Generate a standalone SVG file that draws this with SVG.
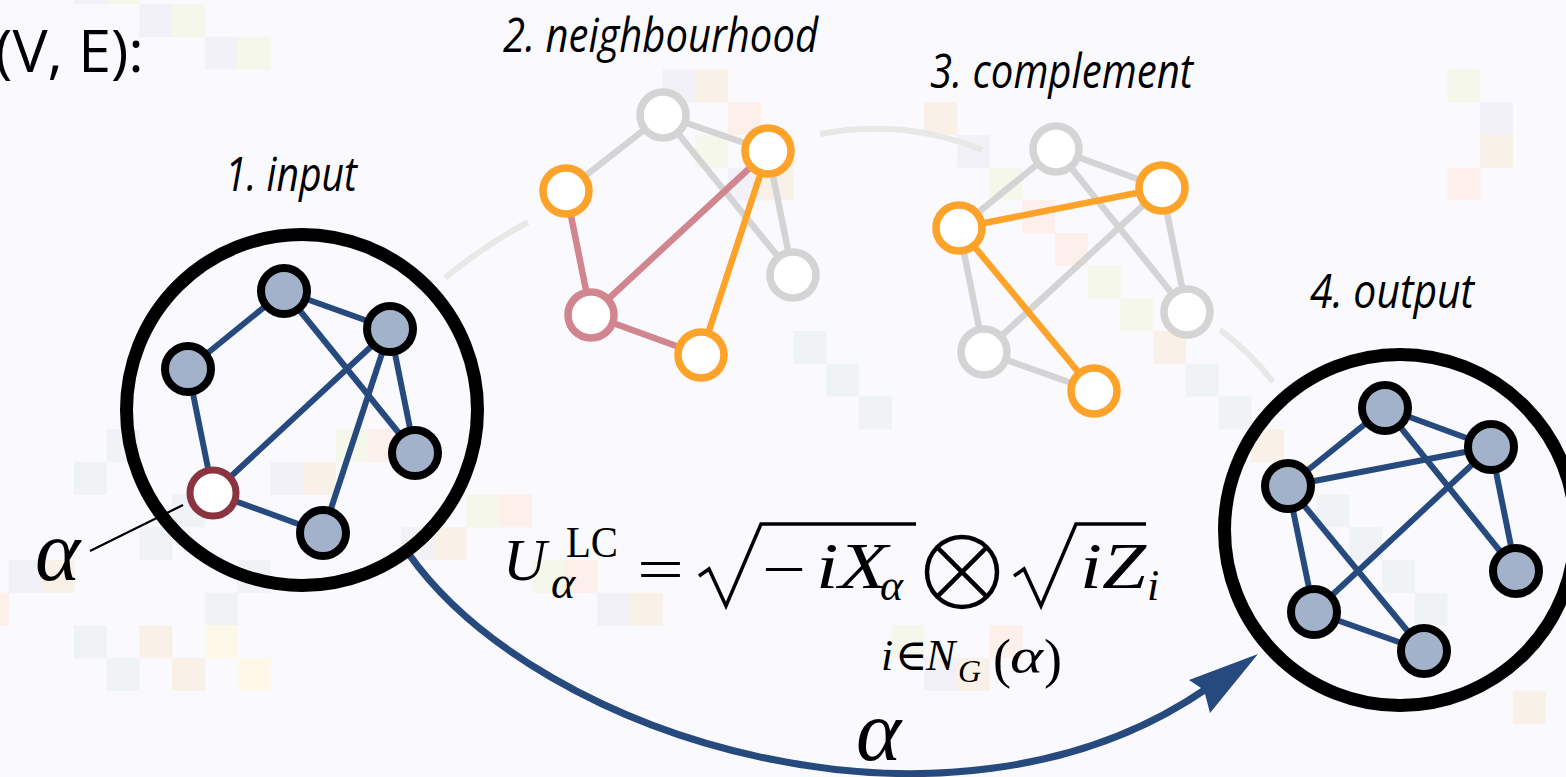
<svg xmlns="http://www.w3.org/2000/svg" width="1566" height="777" viewBox="0 0 1566 777">
<defs>
<style>
.lav{fill:#F3F1F8}.grn{fill:#F4F7EA}.bei{fill:#F9F1E7}.pnk{fill:#FDEFEA}.bgy{fill:#EFF3F5}.yel{fill:#FEF8E8}
.ring{fill:none;stroke:#000;stroke-width:13}
.nb{fill:#A2B2CA;stroke:#000;stroke-width:8}
.na{fill:#fff;stroke:#8A3440;stroke-width:7}
.ng{fill:#fff;stroke:#D4D4D4;stroke-width:7.5}
.no{fill:#fff;stroke:#FDA32A;stroke-width:7.5}
.np{fill:#fff;stroke:#D1868F;stroke-width:7.5}
.eb{stroke:#264A7E;stroke-width:6}
.eg{stroke:#D4D4D4;stroke-width:6.5}
.eo{stroke:#FDA32A;stroke-width:6.5}
.ep{stroke:#D1868F;stroke-width:6.5}
.flow{fill:none;stroke:#E8E8E6;stroke-width:6}
.lbl{font-family:"Open Sans","Noto Sans",sans-serif;font-style:italic;font-size:48px;fill:#000}
.m{font-family:"Liberation Serif","DejaVu Serif",serif;fill:#000}
.it{font-style:italic}
</style>
</defs>
<rect width="1566" height="777" fill="#FAFAFE"/>
<g id="background-tiles">
<rect class="lav" x="74" y="-28.7" width="33" height="33"/><rect class="grn" x="106.7" y="-28.7" width="33" height="33"/>
<rect class="lav" x="139.4" y="4" width="33" height="33"/><rect class="grn" x="172.1" y="4" width="33" height="33"/>
<rect class="lav" x="204.8" y="36.7" width="33" height="33"/><rect class="grn" x="237.5" y="36.7" width="33" height="33"/>
<rect class="lav" x="662.6" y="69.4" width="33" height="33"/><rect class="bei" x="695.3" y="69.4" width="33" height="33"/>
<rect class="pnk" x="728" y="102.1" width="33" height="33"/><rect class="grn" x="695.3" y="134.8" width="33" height="33"/>
<rect class="lav" x="728" y="167.5" width="33" height="33"/><rect class="bei" x="760.7" y="134.8" width="33" height="33"/>
<rect class="bei" x="760.7" y="167.5" width="33" height="33"/>
<rect class="bei" x="924.2" y="102.1" width="33" height="33"/><rect class="lav" x="956.9" y="134.8" width="33" height="33"/>
<rect class="grn" x="989.6" y="167.5" width="33" height="33"/><rect class="pnk" x="1022.3" y="200.2" width="33" height="33"/>
<rect class="pnk" x="1055" y="232.9" width="33" height="33"/><rect class="grn" x="1087.7" y="265.6" width="33" height="33"/>
<rect class="grn" x="1120.4" y="298.3" width="33" height="33"/><rect class="bei" x="1153.1" y="331" width="33" height="33"/>
<rect class="bgy" x="1185.8" y="363.7" width="33" height="33"/><rect class="bgy" x="1218.5" y="396.4" width="33" height="33"/>
<rect class="bei" x="1251.2" y="429.1" width="33" height="33"/><rect class="yel" x="1283.9" y="461.8" width="33" height="33"/>
<rect class="bgy" x="1316.6" y="494.5" width="33" height="33"/><rect class="bgy" x="1349.3" y="527.2" width="33" height="33"/>
<rect class="bgy" x="1382" y="559.9" width="33" height="33"/><rect class="bgy" x="1414.7" y="592.6" width="33" height="33"/>
<rect class="bgy" x="793.4" y="331" width="33" height="33"/><rect class="bgy" x="826.1" y="363.7" width="33" height="33"/>
<rect class="bgy" x="858.8" y="396.4" width="33" height="33"/>
<rect class="grn" x="1447.4" y="69.4" width="33" height="33"/><rect class="lav" x="1480.1" y="102.1" width="33" height="33"/>
<rect class="bei" x="1480.1" y="134.8" width="33" height="33"/><rect class="pnk" x="1447.4" y="167.5" width="33" height="33"/>
<rect class="bgy" x="106.7" y="429.1" width="33" height="33"/><rect class="grn" x="335.6" y="429.1" width="33" height="33"/>
<rect class="pnk" x="368.3" y="429.1" width="33" height="33"/><rect class="lav" x="270.2" y="461.8" width="33" height="33"/>
<rect class="bei" x="302.9" y="461.8" width="33" height="33"/><rect class="bgy" x="172.1" y="494.5" width="33" height="33"/>
<rect class="bgy" x="139.4" y="527.2" width="33" height="33"/><rect class="grn" x="466.4" y="494.5" width="33" height="33"/>
<rect class="pnk" x="499.1" y="494.5" width="33" height="33"/><rect class="lav" x="401" y="527.2" width="33" height="33"/>
<rect class="bei" x="433.7" y="527.2" width="33" height="33"/><rect class="bgy" x="237.5" y="559.9" width="33" height="33"/>
<rect class="bgy" x="74" y="461.8" width="33" height="33"/><rect class="lav" x="8.6" y="559.9" width="33" height="33"/>
<rect class="bei" x="41.3" y="559.9" width="33" height="33"/><rect class="pnk" x="-24.1" y="592.6" width="33" height="33"/>
<rect class="bgy" x="74" y="625.3" width="33" height="33"/><rect class="bei" x="139.4" y="625.3" width="33" height="33"/>
<rect class="bgy" x="204.8" y="592.6" width="33" height="33"/><rect class="yel" x="204.8" y="625.3" width="33" height="33"/>
<rect class="bgy" x="106.7" y="658" width="33" height="33"/><rect class="bei" x="172.1" y="658" width="33" height="33"/>
<rect class="yel" x="237.5" y="658" width="33" height="33"/>
<rect class="lav" x="597.2" y="592.6" width="33" height="33"/><rect class="bei" x="629.9" y="592.6" width="33" height="33"/>
<rect class="grn" x="532.4" y="559.9" width="33" height="33"/><rect class="pnk" x="565.1" y="559.9" width="33" height="33"/>
<rect class="grn" x="891.5" y="625.3" width="33" height="33"/><rect class="lav" x="924.2" y="658" width="33" height="33"/>
<rect class="bei" x="956.9" y="658" width="33" height="33"/><rect class="pnk" x="989.6" y="625.3" width="33" height="33"/>
<rect class="bei" x="1512.8" y="690.7" width="33" height="33"/>
</g>

<g id="connectors">
<path class="flow" d="M445,278 Q485,245 528,222"/>
<path class="flow" d="M820,134 Q905,118 982,150"/>
<path class="flow" d="M1220,330 Q1250,352 1273,382"/>
<g id="edges-input">
<line class="eb" x1="284" y1="291" x2="188" y2="369"/>
<line class="eb" x1="284" y1="291" x2="390" y2="329"/>
<line class="eb" x1="284" y1="291" x2="415" y2="453"/>
<line class="eb" x1="390" y1="329" x2="213" y2="493"/>
<line class="eb" x1="390" y1="329" x2="323" y2="533"/>
<line class="eb" x1="390" y1="329" x2="415" y2="453"/>
<line class="eb" x1="188" y1="369" x2="213" y2="493"/>
<line class="eb" x1="213" y1="493" x2="323" y2="533"/>
</g>
<g id="edges-neighbourhood">
<line class="eg" x1="663" y1="115" x2="566" y2="191"/>
<line class="eg" x1="663" y1="115" x2="768" y2="151"/>
<line class="eg" x1="663" y1="115" x2="793" y2="275"/>
<line class="eg" x1="768" y1="151" x2="793" y2="275"/>
<line class="ep" x1="566" y1="191" x2="591" y2="315"/>
<line class="ep" x1="591" y1="315" x2="768" y2="151"/>
<line class="ep" x1="591" y1="315" x2="701" y2="355"/>
<line class="eo" x1="768" y1="151" x2="701" y2="355"/>
</g>
<g id="edges-complement">
<line class="eg" x1="1056" y1="149" x2="959" y2="228"/>
<line class="eg" x1="1056" y1="149" x2="1162" y2="188"/>
<line class="eg" x1="1056" y1="149" x2="1187" y2="312"/>
<line class="eg" x1="1162" y1="188" x2="1187" y2="312"/>
<line class="eg" x1="959" y1="228" x2="984" y2="352"/>
<line class="eg" x1="984" y1="352" x2="1162" y2="188"/>
<line class="eg" x1="984" y1="352" x2="1094" y2="391"/>
<line class="eo" x1="959" y1="228" x2="1162" y2="188"/>
<line class="eo" x1="959" y1="228" x2="1094" y2="391"/>
</g>
<g id="edges-output">
<line class="eb" x1="1385" y1="408" x2="1288" y2="486"/>
<line class="eb" x1="1385" y1="408" x2="1491" y2="447"/>
<line class="eb" x1="1385" y1="408" x2="1516" y2="571"/>
<line class="eb" x1="1491" y1="447" x2="1516" y2="571"/>
<line class="eb" x1="1288" y1="486" x2="1491" y2="447"/>
<line class="eb" x1="1288" y1="486" x2="1314" y2="612"/>
<line class="eb" x1="1288" y1="486" x2="1424" y2="651"/>
<line class="eb" x1="1314" y1="612" x2="1491" y2="447"/>
<line class="eb" x1="1314" y1="612" x2="1424" y2="651"/>
</g>
<path d="M408,553 C540,740 950,865 1206,689" fill="none" stroke="#264A7E" stroke-width="7"/>
<polygon points="1258,654 1189,680 1204,690 1210,713" fill="#264A7E"/>
<line x1="90" y1="551" x2="183" y2="505" stroke="#000" stroke-width="2.2"/>
</g>

<g id="input">
<circle class="ring" cx="302" cy="410" r="175.5"/>
<g id="in-a"><circle class="nb" cx="284" cy="291" r="23"/></g>
<g id="in-b"><circle class="nb" cx="188" cy="369" r="23"/></g>
<g id="in-c"><circle class="nb" cx="390" cy="329" r="23"/></g>
<g id="in-d"><circle class="nb" cx="415" cy="453" r="23"/></g>
<g id="in-alpha"><circle class="na" cx="213" cy="493" r="23"/></g>
<g id="in-f"><circle class="nb" cx="323" cy="533" r="23"/></g>
</g>
<g id="neighbourhood">
<g id="nb-a"><circle class="ng" cx="663" cy="115" r="23"/></g>
<g id="nb-b"><circle class="no" cx="566" cy="191" r="23"/></g>
<g id="nb-c"><circle class="no" cx="768" cy="151" r="23"/></g>
<g id="nb-d"><circle class="ng" cx="793" cy="275" r="23"/></g>
<g id="nb-alpha"><circle class="np" cx="591" cy="315" r="23"/></g>
<g id="nb-f"><circle class="no" cx="701" cy="355" r="23"/></g>
</g>
<g id="complement">
<g id="cp-a"><circle class="ng" cx="1056" cy="149" r="23"/></g>
<g id="cp-c"><circle class="no" cx="1162" cy="188" r="23"/></g>
<g id="cp-b"><circle class="no" cx="959" cy="228" r="23"/></g>
<g id="cp-d"><circle class="ng" cx="1187" cy="312" r="23"/></g>
<g id="cp-alpha"><circle class="ng" cx="984" cy="352" r="23"/></g>
<g id="cp-f"><circle class="no" cx="1094" cy="391" r="23"/></g>
</g>
<g id="output">
<circle class="ring" cx="1400" cy="530" r="175.5"/>
<g id="out-a"><circle class="nb" cx="1385" cy="408" r="23"/></g>
<g id="out-c"><circle class="nb" cx="1491" cy="447" r="23"/></g>
<g id="out-b"><circle class="nb" cx="1288" cy="486" r="23"/></g>
<g id="out-d"><circle class="nb" cx="1516" cy="571" r="23"/></g>
<g id="out-alpha"><circle class="nb" cx="1314" cy="612" r="23"/></g>
<g id="out-f"><circle class="nb" cx="1424" cy="651" r="23"/></g>
</g>

<g id="labels">
<text x="-5" y="72" font-family="Open Sans, Noto Sans, sans-serif" font-size="59">(V, E):</text>
<text class="lbl" x="225" y="191" textLength="132" lengthAdjust="spacingAndGlyphs">1. input</text>
<text class="lbl" x="503" y="52" textLength="315" lengthAdjust="spacingAndGlyphs">2. neighbourhood</text>
<text class="lbl" x="930" y="88" textLength="263" lengthAdjust="spacingAndGlyphs">3. complement</text>
<text class="lbl" x="1310" y="308" textLength="164" lengthAdjust="spacingAndGlyphs">4. output</text>
<text class="m it" x="35" y="580" font-size="86">α</text>
<text class="m it" x="856" y="760" font-size="86">α</text>
</g>

<g id="formula">
<text class="m it" x="503" y="580" font-size="60">U</text>
<text class="m" x="566" y="557" font-size="44" textLength="52" lengthAdjust="spacingAndGlyphs">LC</text>
<text class="m it" x="551" y="598" font-size="46">α</text>
<text class="m" x="637" y="590" font-size="62" textLength="47" lengthAdjust="spacingAndGlyphs">=</text>
<path d="M699,576 L709,569 L726,606 L761,524 L916,524" fill="none" stroke="#000" stroke-width="3.5" stroke-linejoin="miter"/>
<text class="m" x="762" y="590" font-size="62" textLength="44" lengthAdjust="spacingAndGlyphs">−</text>
<text class="m it" x="816" y="588" font-size="66" textLength="72" lengthAdjust="spacingAndGlyphs">iX</text>
<text class="m it" x="880" y="600" font-size="44">α</text>
<g fill="none" stroke="#000" stroke-width="4.5">
<circle cx="962" cy="572" r="35"/>
<line x1="937.3" y1="547.3" x2="986.7" y2="596.7"/>
<line x1="937.3" y1="596.7" x2="986.7" y2="547.3"/>
</g>
<path d="M1014,576 L1024,569 L1041,606 L1076,524 L1146,524" fill="none" stroke="#000" stroke-width="3.5"/>
<text class="m it" x="1080" y="588" font-size="66" textLength="66" lengthAdjust="spacingAndGlyphs">iZ</text>
<text class="m it" x="1147" y="600" font-size="44">i</text>
<text class="m it" x="881" y="670" font-size="44">i</text>
<text class="m" x="895" y="670" font-size="44">∈</text>
<text class="m it" x="926" y="670" font-size="44">N</text>
<text class="m it" x="958" y="682" font-size="32">G</text>
<text class="m" x="993" y="677" font-size="54">(</text>
<text class="m it" x="1010" y="673" font-size="50" textLength="33" lengthAdjust="spacingAndGlyphs">α</text>
<text class="m" x="1044" y="677" font-size="54">)</text>
</g>
</svg>
